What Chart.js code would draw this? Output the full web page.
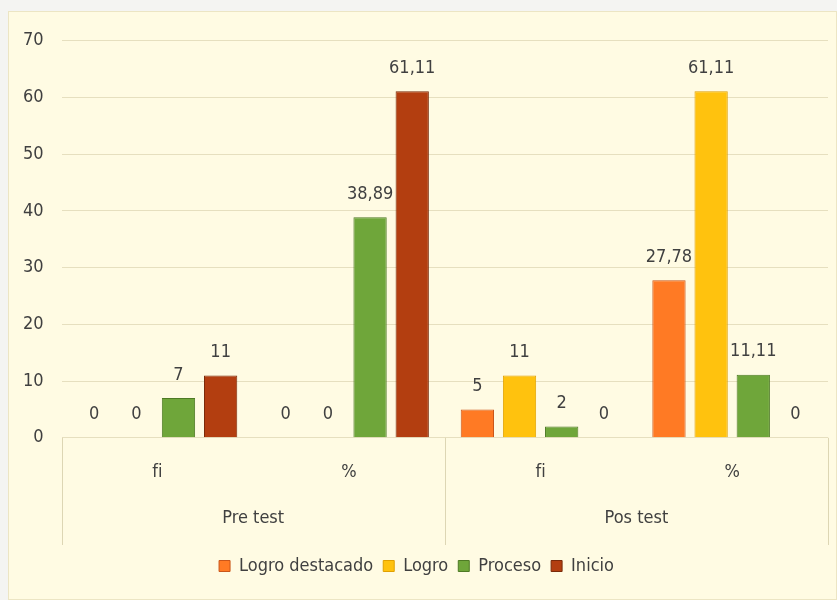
<!DOCTYPE html>
<html lang="es">
<head>
  <meta charset="utf-8">
  <title>Pre test / Pos test</title>
  <script src="https://cdn.jsdelivr.net/npm/chart.js@4/dist/chart.umd.min.js"></script>
  <style>
    body { margin: 0; background: #f4f4f2; }
    #panel {
      position: absolute; left: 8px; top: 11px; width: 827px; height: 587px;
      background: #fffbe3; border: 1px solid #ece5c4;
    }
  </style>
</head>
<body>
  <div id="panel"><canvas id="myChart"></canvas></div>

  <script>
    // categorias (dos niveles)
    const subLabels = ['fi', '%', 'fi', '%'];
    const groupLabels = ['Pre test', 'Pos test'];
    const yTicks = [0, 10, 20, 30, 40, 50, 60, 70];

    // series
    const logroDestacado = [0, 0, 5, 27.78];
    const logro = [0, 0, 11, 61.11];
    const proceso = [7, 38.89, 2, 11.11];
    const inicio = [11, 61.11, 0, 0];

    const FONT = "'DejaVu Sans Condensed', 'Noto Sans', sans-serif";
    const TEXT = '#404040';

    function fmt(v) {
      return String(v).replace('.', ',');
    }

    // etiquetas de datos sobre cada barra
    const valueLabels = {
      id: 'valueLabels',
      afterDatasetsDraw(chart) {
        const ctx = chart.ctx;
        ctx.save();
        ctx.font = '18px ' + FONT;
        ctx.fillStyle = TEXT;
        ctx.textAlign = 'center';
        ctx.textBaseline = 'bottom';
        chart.data.datasets.forEach((ds, i) => {
          chart.getDatasetMeta(i).data.forEach((bar, j) => {
            ctx.fillText(fmt(ds.data[j]), bar.x, bar.y - 14);
          });
        });
        ctx.restore();
      }
    };

    // separadores de grupos del eje x
    const groupLines = {
      id: 'groupLines',
      afterDraw(chart) {
        const x2 = chart.scales.x2;
        const ctx = chart.ctx;
        const half = (x2.getPixelForValue(1) - x2.getPixelForValue(0)) / 2;
        ctx.save();
        ctx.strokeStyle = '#ddd6b4';
        ctx.lineWidth = 1;
        for (let i = 0; i <= groupLabels.length; i++) {
          const px = Math.round(x2.getPixelForValue(0) - half + i * 2 * half) + 0.5;
          ctx.beginPath();
          ctx.moveTo(px, chart.chartArea.bottom);
          ctx.lineTo(px, x2.bottom - 2);
          ctx.stroke();
        }
        ctx.restore();
      }
    };

    const data = {
      labels: subLabels,
      datasets: [
        { label: 'Logro destacado', data: logroDestacado, backgroundColor: '#ff7a24', borderColor: '#c9561a' },
        { label: 'Logro', data: logro, backgroundColor: '#ffc20e', borderColor: '#e0a000' },
        { label: 'Proceso', data: proceso, backgroundColor: '#6fa63a', borderColor: '#4e7a25' },
        { label: 'Inicio', data: inicio, backgroundColor: '#b33e10', borderColor: '#7a2a0a' }
      ]
    };
    data.datasets.forEach(ds => {
      ds.borderWidth = 1;
      ds.categoryPercentage = 0.88;
      ds.barPercentage = 0.79;
    });

    const config = {
      type: 'bar',
      data: data,
      options: {
        responsive: true,
        maintainAspectRatio: false,
        animation: false,
        layout: { padding: { left: -4, right: 8, top: 28, bottom: 14 } },
        plugins: {
          legend: {
            position: 'bottom',
            labels: {
              boxWidth: 11, boxHeight: 11, padding: 10,
              color: TEXT,
              font: { family: FONT, size: 18 }
            }
          },
          tooltip: { enabled: false }
        },
        scales: {
          x: {
            grid: { display: false },
            border: { display: false },
            ticks: { color: TEXT, padding: 16, font: { family: FONT, size: 18 } }
          },
          x2: {
            type: 'category',
            labels: groupLabels,
            position: 'bottom',
            offset: true,
            grid: { display: false },
            border: { display: false },
            ticks: { color: TEXT, padding: 0, font: { family: FONT, size: 18 } },
            afterFit: axis => { axis.height += 18; }
          },
          y: {
            min: 0,
            max: 70,
            afterBuildTicks: axis => { axis.ticks = yTicks.map(v => ({ value: v })); },
            grid: { color: '#e6dfbf', drawTicks: false },
            border: { display: false },
            ticks: { color: TEXT, padding: 18, font: { family: FONT, size: 18 } }
          }
        }
      },
      plugins: [valueLabels, groupLines]
    };

    new Chart(document.getElementById('myChart'), config);
  </script>
</body>
</html>
